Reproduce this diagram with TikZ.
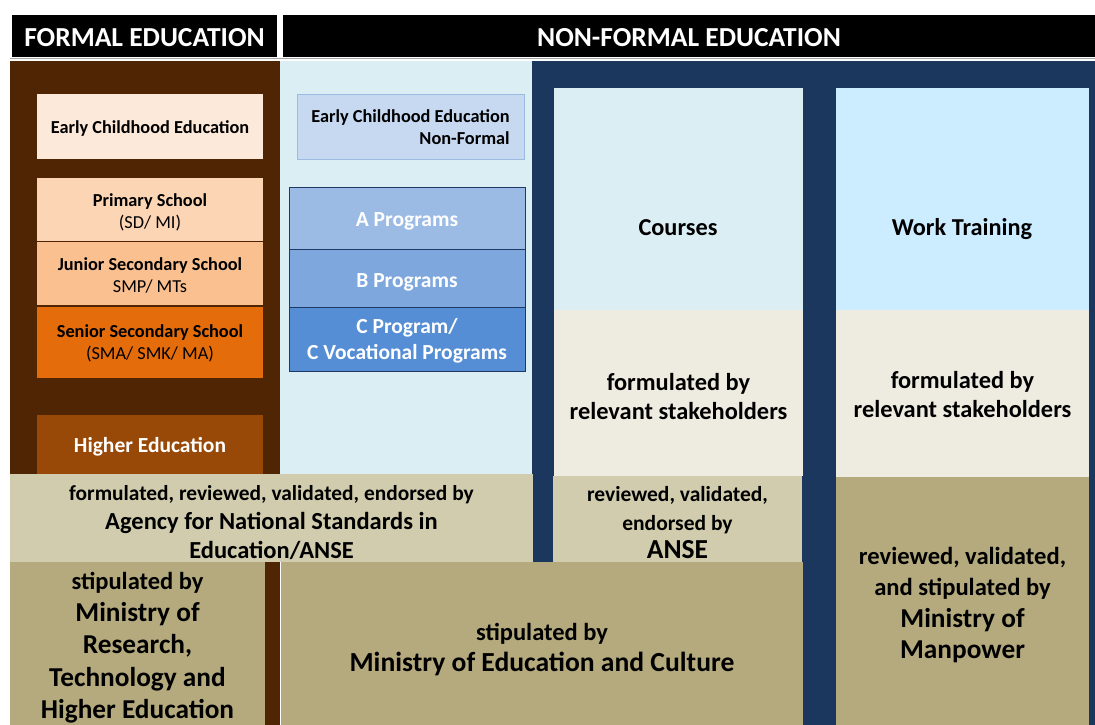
\documentclass[tikz,border=0pt]{standalone}
\usepackage{fontspec}
\setmainfont{Carlito}
\newcommand\fsz[2]{\fontsize{#1}{#2}\selectfont}
\definecolor{brownpanel}{HTML}{502504}
\definecolor{lightpanel}{HTML}{DBEEF4}
\definecolor{navy}{HTML}{1B375E}
\definecolor{coursefill}{HTML}{DAEEF3}
\definecolor{workfill}{HTML}{CCECFF}
\definecolor{cream}{HTML}{EEECE1}
\definecolor{tanlight}{HTML}{D0CCAD}
\definecolor{tandark}{HTML}{B4AA7D}
\definecolor{ecefill}{HTML}{FDE9D9}
\definecolor{primfill}{HTML}{FCD5B4}
\definecolor{junfill}{HTML}{FAC090}
\definecolor{senfill}{HTML}{E46C0A}
\definecolor{highfill}{HTML}{984807}
\definecolor{ecenf}{HTML}{C6D9F1}
\definecolor{ecenfline}{HTML}{9DBBE0}
\definecolor{afill}{HTML}{9BBBE5}
\definecolor{bfill}{HTML}{7EA7DD}
\definecolor{cfill}{HTML}{558ED5}
\definecolor{progline}{HTML}{1F3864}
\begin{document}
\begin{tikzpicture}[x=1pt,y=-1pt,
  cell/.style={rectangle, inner sep=0pt, outer sep=0pt, anchor=north west},
  txt/.style={inner sep=0pt, align=center, font=\bfseries},
  head/.style={txt, text=white, font=\bfseries\fsz{27.5}{30}},
  prog/.style={cell, draw=progline, line width=0.8pt},
  progt/.style={txt, text=white, font=\bfseries\fsz{21.5}{26}},
  small/.style={txt, font=\bfseries\fsz{18.3}{22}}]
\useasboundingbox (0,0) rectangle (1095,725);
\fill[white] (0,0) rectangle (1095,725);
% headers
\node[cell, fill=black, minimum width=265pt, minimum height=42pt] (hformal) at (12,15) {};
\node[head] (hformalT) at ([yshift=-2pt]hformal.center) {FORMAL EDUCATION};
\node[cell, fill=black, minimum width=812pt, minimum height=42pt] (hnonformal) at (283,15) {};
\node[head] (hnonformalT) at ([yshift=-2pt]hnonformal.center) {NON-FORMAL EDUCATION};
\draw[gray!70, line width=1pt] (10,59) -- (1095,59);
% panels
\node[cell, fill=brownpanel, minimum width=270pt, minimum height=664pt] (pformal) at (10,61) {};
\node[cell, fill=lightpanel, minimum width=252pt, minimum height=420pt] (pnf) at (280,61) {};
\node[cell, fill=navy, minimum width=563pt, minimum height=664pt] (pnavy) at (532,61) {};
% formal boxes
\node[cell, fill=ecefill, minimum width=226pt, minimum height=65pt] (ece) at (37,94) {};
\node[small] (eceT) at ([yshift=-2pt]ece.center) {Early Childhood Education};
\node[cell, fill=primfill, minimum width=226pt, minimum height=63pt] (prim) at (37,178) {};
\node[small] (primT) at ([yshift=-2.5pt]prim.center) {Primary School\\\mdseries (SD/ MI)};
\node[cell, fill=junfill, minimum width=226pt, minimum height=63pt] (jun) at (37,242) {};
\node[small] (junT) at ([yshift=-1.5pt]jun.center) {Junior Secondary School\\\mdseries SMP/ MTs};
\node[cell, fill=senfill, minimum width=226pt, minimum height=71pt] (sen) at (37,307) {};
\node[small] (senT) at ([yshift=-1pt]sen.center) {Senior Secondary School\\\mdseries (SMA/ SMK/ MA)};
\node[cell, fill=highfill, minimum width=226pt, minimum height=62pt] (high) at (37,415) {};
\node[txt, text=white, font=\bfseries\fsz{21.5}{24}] (highT) at ([yshift=-1pt]high.center) {Higher Education};
% non-formal boxes
\node[cell, fill=ecenf, draw=ecenfline, line width=0.8pt, minimum width=227pt, minimum height=65pt] (ecenf) at (297,94) {};
\node[small, align=right] (ecenfT) at ([yshift=-1pt]ecenf.center) {Early Childhood Education\\Non-Formal};
\node[prog, fill=afill, minimum width=236pt, minimum height=62pt] (aprog) at (289,187) {};
\node[progt] (aprogT) at ([yshift=-3pt]aprog.center) {A Programs};
\node[prog, fill=bfill, minimum width=236pt, minimum height=58pt] (bprog) at (289,249) {};
\node[progt] (bprogT) at ([yshift=-4.5pt]bprog.center) {B Programs};
\node[prog, fill=cfill, minimum width=236pt, minimum height=64pt] (cprog) at (289,307) {};
\node[progt] (cprogT) at ([yshift=-2pt]cprog.center) {C Program/\\C Vocational Programs};
% courses / work training
\node[cell, fill=coursefill, minimum width=249pt, minimum height=222pt] (courses) at (554,88) {};
\node[txt, font=\bfseries\fsz{24.3}{28}] (coursesT) at (678,228) {Courses};
\node[cell, fill=workfill, minimum width=253pt, minimum height=222pt] (work) at (836,88) {};
\node[txt, font=\bfseries\fsz{24.3}{28}] (workT) at (962,229.5) {Work Training};
\node[cell, fill=cream, minimum width=249pt, minimum height=166pt] (cform) at (554,310) {};
\node[txt, font=\bfseries\fsz{24.4}{29}] (cformT) at ([yshift=-4pt]cform.center) {formulated by\\relevant stakeholders};
\node[cell, fill=cream, minimum width=253pt, minimum height=167pt] (wform) at (836,310) {};
\node[txt, font=\bfseries\fsz{24.4}{29}] (wformT) at ([yshift=-1.5pt]wform.center) {formulated by\\relevant stakeholders};
% approval boxes
\node[cell, fill=tanlight, minimum width=523pt, minimum height=88pt] (anse) at (10,474) {};
\node[txt, font=\bfseries\fsz{24.5}{29}] (anseT) at ([yshift=-4.5pt]anse.center)
  {\fsz{21.4}{29}formulated, reviewed, validated, endorsed by\\\fsz{24.5}{29}Agency for National Standards in\\\fsz{24.5}{29}Education/ANSE};
\node[cell, fill=tanlight, minimum width=249pt, minimum height=86pt] (anses) at (553,476) {};
\node[txt, font=\bfseries\fsz{21.5}{28.5}] (ansesT) at ([yshift=-4pt]anses.center)
  {\fsz{21.5}{28.5}reviewed, validated,\\\fsz{21.5}{28.5}endorsed by\\\fsz{27.5}{28.5}ANSE};
\node[cell, fill=tandark, minimum width=255pt, minimum height=163pt] (mrt) at (10,562) {};
\node[txt, font=\bfseries\fsz{27.3}{32.3}] (mrtT) at ([yshift=-4pt]mrt.center)
  {\fsz{24.5}{32.3}stipulated by\\\fsz{27.3}{32.3}Ministry of\\\fsz{27.3}{32.3}Research,\\\fsz{27.3}{32.3}Technology and\\\fsz{27.3}{32.3}Higher Education};
\node[cell, fill=tandark, minimum width=522pt, minimum height=163pt] (mec) at (281,562) {};
\node[txt, font=\bfseries\fsz{27.6}{31}] (mecT) at ([yshift=-6pt]mec.center)
  {\fsz{24.5}{31}stipulated by\\\fsz{27.6}{31}Ministry of Education and Culture};
\node[cell, fill=tandark, minimum width=253pt, minimum height=248pt] (mmp) at (836,477) {};
\node[txt, font=\bfseries\fsz{27.3}{31.3}] (mmpT) at ([yshift=-4pt]mmp.center)
  {\fsz{24.6}{31.3}reviewed, validated,\\\fsz{24.6}{31.3}and stipulated by\\\fsz{27.3}{31.3}Ministry of\\\fsz{27.3}{31.3}Manpower};
\end{tikzpicture}
\end{document}
